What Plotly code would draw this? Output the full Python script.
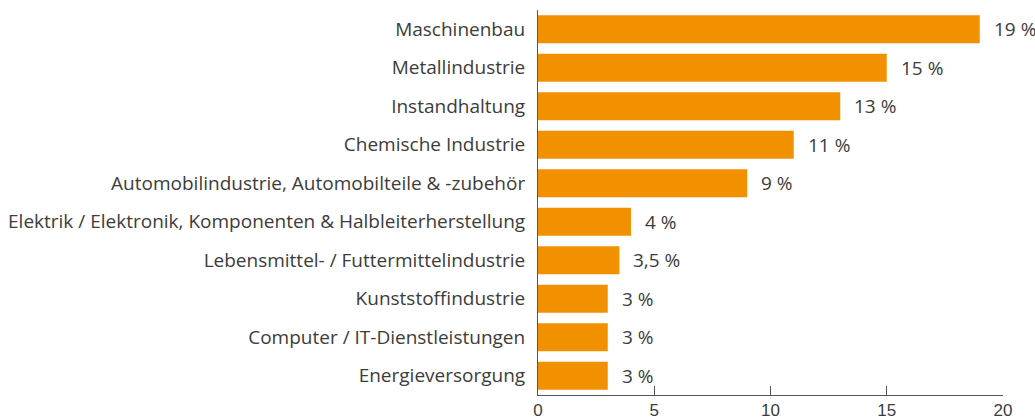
import plotly.graph_objects as go

categories = [
    "Maschinenbau",
    "Metallindustrie",
    "Instandhaltung",
    "Chemische Industrie",
    "Automobilindustrie, Automobilteile & -zubehör",
    "Elektrik / Elektronik, Komponenten & Halbleiterherstellung",
    "Lebensmittel- / Futtermittelindustrie",
    "Kunststoffindustrie",
    "Computer / IT-Dienstleistungen",
    "Energieversorgung",
]
values = [19, 15, 13, 11, 9, 4, 3.5, 3, 3, 3]
value_labels = ["19 %", "15 %", "13 %", "11 %", "9 %", "4 %", "3,5 %", "3 %", "3 %", "3 %"]
tick_vals = [0, 5, 10, 15, 20]

ORANGE = "#F29100"
TEXT = "#3c3c3c"
AXIS = "#555555"

fig = go.Figure(
    go.Bar(
        x=values,
        y=categories,
        orientation="h",
        marker=dict(color=ORANGE, line=dict(width=0)),
        hoverinfo="skip",
    )
)

for cat, v, lab in zip(categories, values, value_labels):
    fig.add_annotation(
        x=v, y=cat, text=lab, showarrow=False,
        xanchor="left", xshift=12, yanchor="middle",
        font=dict(family="Open Sans", size=19, color=TEXT),
    )

fig.update_layout(
    width=1035, height=418,
    margin=dict(l=538, r=32, t=10, b=23, autoexpand=False),
    paper_bgcolor="white", plot_bgcolor="white",
    bargap=0.274,
    showlegend=False,
)
fig.update_xaxes(
    range=[0, 20], tickvals=tick_vals, automargin=False,
    showgrid=False, zeroline=False,
    showline=True, linecolor=AXIS, linewidth=1,
    ticks="inside", ticklen=9, tickcolor=AXIS, tickwidth=1,
    tickfont=dict(family="Liberation Sans", size=17, color=TEXT),
    fixedrange=True,
)
fig.update_yaxes(
    categoryorder="array", categoryarray=categories[::-1], automargin=False,
    showgrid=False, zeroline=False,
    showline=True, linecolor=AXIS, linewidth=1,
    ticks="", ticklabelstandoff=8,
    tickfont=dict(family="Open Sans", size=19, color=TEXT),
    fixedrange=True,
)

fig.write_html(
    "out.html",
    config={"displayModeBar": False},
    post_script="document.body.style.margin='0';document.body.style.overflow='hidden';",
)
